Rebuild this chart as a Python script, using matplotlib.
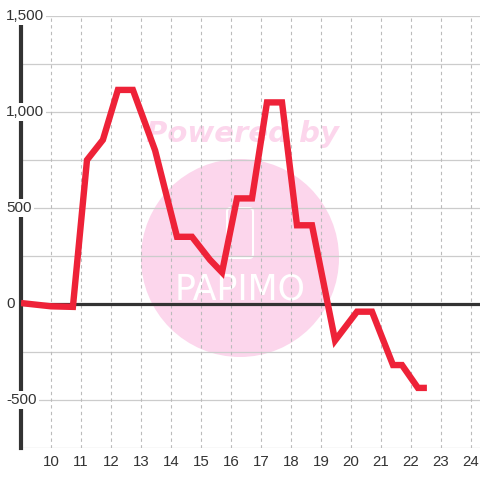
import matplotlib
matplotlib.use("Agg")
from matplotlib import pyplot as plt
from matplotlib.patches import Circle, FancyBboxPatch

plt.rcParams['font.family'] = ['Liberation Sans', 'DejaVu Sans']

# data
hours = [9.0, 10.0, 10.73, 11.2, 11.73, 12.23, 12.73, 13.47, 14.2, 14.7,
         15.3, 15.7, 16.2, 16.7, 17.2, 17.7, 18.2, 18.7, 19.47, 20.2,
         20.7, 21.4, 21.7, 22.23, 22.53]
values = [5, -12, -15, 750, 855, 1115, 1115, 800, 350, 350,
          230, 165, 550, 550, 1050, 1050, 410, 410, -190, -40,
          -40, -318, -318, -437, -437]

xticks = list(range(10, 25))
yticks_major = [-500, 0, 500, 1000, 1500]
ylabels = ["-500", "0", "500", "1,000", "1,500"]
yticks_grid = [-750, -500, -250, 0, 250, 500, 750, 1000, 1250, 1500]

txt = '#333333'

fig = plt.figure(figsize=(4.8, 4.8), dpi=100)
ax = fig.add_axes([21/480, 1-448/480, 459/480, 432/480])
ax.set_facecolor('none')

# watermark behind the axes
fig.add_artist(Circle((240/480, 1-258/480), 99/480, transform=fig.transFigure,
                      facecolor='#fcd6ec', edgecolor='none', zorder=-1))
fig.text(242/480, 1-134/480, "Powered by", color='#fcd6ec', fontsize=21,
         fontweight='bold', fontstyle='italic', ha='center', va='center',
         family=['DejaVu Sans'], zorder=-1)
fig.add_artist(FancyBboxPatch((227/480, 1-258/480), 26/480, 50/480,
                              boxstyle="round,pad=0,rounding_size=0.008",
                              transform=fig.transFigure, facecolor='none',
                              edgecolor='white', linewidth=1.5, zorder=-1))
fig.text(240/480, 1-290/480, "PAPIMO", color='white', fontsize=25,
         ha='center', va='center', family=['DejaVu Sans'],
         zorder=-1)

ax.set_xlim(9.0, 24.3)
ax.set_ylim(-750, 1500)

for v in yticks_grid:
    ax.axhline(v, color='#cccccc', linewidth=0.9, zorder=1)
for x in xticks:
    ax.axvline(x, color='#bbbbbb', linewidth=0.8, linestyle=(0, (3, 3)), zorder=1)

ax.axhline(0, color=txt, linewidth=2.3, zorder=2)

ax.plot(hours, values, color='#ee2238', linewidth=4.6,
        solid_joinstyle='miter', solid_capstyle='butt', zorder=3)

for s in ['top', 'right', 'bottom']:
    ax.spines[s].set_visible(False)
ax.spines['left'].set_color(txt)
ax.spines['left'].set_linewidth(3)
ax.spines['left'].set_zorder(2.5)

ax.set_xticks(xticks)
ax.set_xticklabels([str(x) for x in xticks])
ax.tick_params(axis='x', length=0, pad=5, labelsize=10.8, labelcolor=txt)
ax.set_yticks([])

for v, lab in zip(yticks_major, ylabels):
    ax.annotate(lab, xy=(0, v), xycoords=('axes fraction', 'data'),
                xytext=(-15, 0), textcoords='offset pixels', ha='left',
                va='center', fontsize=11, color=txt, zorder=5,
                bbox=dict(facecolor='white', edgecolor='none', pad=1.5),
                annotation_clip=False)

fig.savefig("out.png", dpi=100)
